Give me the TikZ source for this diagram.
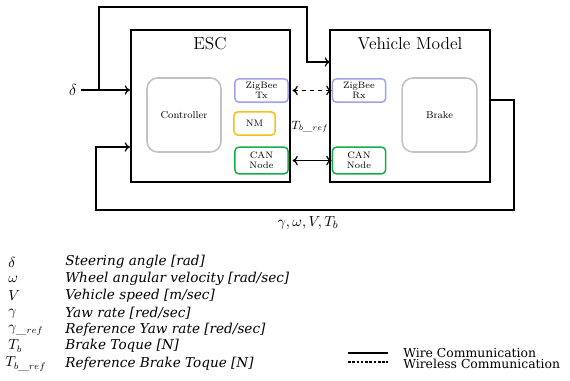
\documentclass[tikz,border=0pt]{standalone}
\usepackage{fontspec}
\newfontfamily\legfont{DejaVu Serif}
\usetikzlibrary{arrows.meta}
\definecolor{zigblue}{RGB}{160,160,235}
\definecolor{nmorange}{RGB}{250,190,20}
\definecolor{cangreen}{RGB}{20,175,70}
\definecolor{ctrlgray}{RGB}{195,195,195}
\tikzset{
  mainbox/.style={draw,line width=1.5pt,inner sep=0pt},
  block/.style={draw=ctrlgray,line width=1.2pt,rounded corners=8pt,inner sep=0pt,font=\fontsize{7.5}{8.5}\selectfont},
  smallbox/.style={draw,line width=1.1pt,rounded corners=3pt,inner sep=0pt,align=center,font=\fontsize{7}{7.5}\selectfont},
  wire/.style={line width=0.9pt},
  legsym/.style={anchor=west,inner sep=0pt,font=\fontsize{10.5}{11}\selectfont},
  legtxt/.style={anchor=west,inner sep=0pt,font=\fontsize{10.2}{11}\legfont\itshape},
  keytxt/.style={anchor=west,inner sep=0pt,font=\fontsize{9.3}{10}\legfont}
}
\begin{document}
\begin{tikzpicture}[x=0.75pt,y=-0.75pt,>={To[length=4pt,width=7pt]}]
\useasboundingbox (0,0) rectangle (570,380);
\node[mainbox,minimum width=119.25pt,minimum height=114pt] (esc) at (210.5,106) {};
\node[mainbox,minimum width=120pt,minimum height=114pt] (vm) at (410,106) {};
\node[font=\fontsize{13}{15}\selectfont] (esct) at (210,44) {ESC};
\node[font=\fontsize{13}{15}\selectfont] (vmt) at (410,44) {Vehicle Model};
\node[block,minimum width=55.5pt,minimum height=55.5pt] (ctrl) at (184,115) {Controller};
\node[block,minimum width=56pt,minimum height=55.5pt] (brake) at (439.5,115) {Brake};
\node[smallbox,draw=zigblue,minimum width=40pt,minimum height=17.5pt] (zbtx) at (261.5,90.5) {ZigBee\\Tx};
\node[smallbox,draw=nmorange,minimum width=31pt,minimum height=17.5pt] (nm) at (254.5,123.5) {NM};
\node[smallbox,draw=cangreen,minimum width=40pt,minimum height=20pt] (canl) at (261.5,160.5) {CAN\\Node};
\node[smallbox,draw=zigblue,minimum width=40pt,minimum height=17.5pt] (zbrx) at (359,90.5) {ZigBee\\Rx};
\node[smallbox,draw=cangreen,minimum width=40pt,minimum height=20pt] (canr) at (359,160.5) {CAN\\Node};
\node[font=\fontsize{12}{13}\selectfont] (delta) at (73,90) {$\delta$};
\node[font=\fontsize{9}{10}\selectfont] (tbref) at (310,127) {$T_{b\_ref}$};
\node[font=\fontsize{11}{12}\selectfont] (fb) at (308,223) {$\gamma,\omega,V,T_b$};
\coordinate (split) at (99,90);
\coordinate (top) at (307,7);
\coordinate (vmin) at (330,62);
\coordinate (fbout) at (490,100);
\coordinate (fbr) at (514,210);
\coordinate (fbl) at (96,147);
\draw[wire,->] (delta.east) -- (delta.east -| esc.west);
\draw[wire,->] (split) |- (top) |- (vmin);
\draw[wire,dashed,<->] (zbtx.east -| esc.east) ++(1.5,0) -- (zbrx.west);
\draw[wire,<->] (canl.east -| esc.east) ++(1.5,0) -- (canr.west);
\draw[wire,->] (fbout) -| (fbr) -| (fbl) -- (fbl -| esc.west);
% legend
\node[legsym] (s1) at (8,262) {$\delta$};
\node[legsym] (s2) at (8,279) {$\omega$};
\node[legsym] (s3) at (8,295.5) {$V$};
\node[legsym] (s4) at (8,313.5) {$\gamma$};
\node[legsym] (s5) at (8,330) {$\gamma_{\_ref}$};
\node[legsym] (s6) at (8,346) {$T_b$};
\node[legsym] (s7) at (5,364) {$T_{b\_ref}$};
\node[legtxt] (t1) at (65,262) {Steering angle [rad]};
\node[legtxt] (t2) at (65,279) {Wheel angular velocity [rad/sec]};
\node[legtxt] (t3) at (65,296) {Vehicle speed [m/sec]};
\node[legtxt] (t4) at (65,313) {Yaw rate [red/sec]};
\node[legtxt] (t5) at (65,330) {Reference Yaw rate [red/sec]};
\node[legtxt] (t6) at (65,346) {Brake Toque [N]};
\node[legtxt] (t7) at (65,364) {Reference Brake Toque [N]};
\coordinate (wa) at (348,353);
\coordinate (wb) at (388,353);
\coordinate (la) at (348,362);
\coordinate (lb) at (388,362);
\draw[wire] (wa) -- (wb);
\draw[wire,dashed,dash pattern=on 2pt off 1.2pt] (la) -- (lb);
\node[keytxt] (wt) at (403,352.5) {Wire Communication};
\node[keytxt] (wlt) at (403,363.5) {Wireless Communication};
\end{tikzpicture}
\end{document}
